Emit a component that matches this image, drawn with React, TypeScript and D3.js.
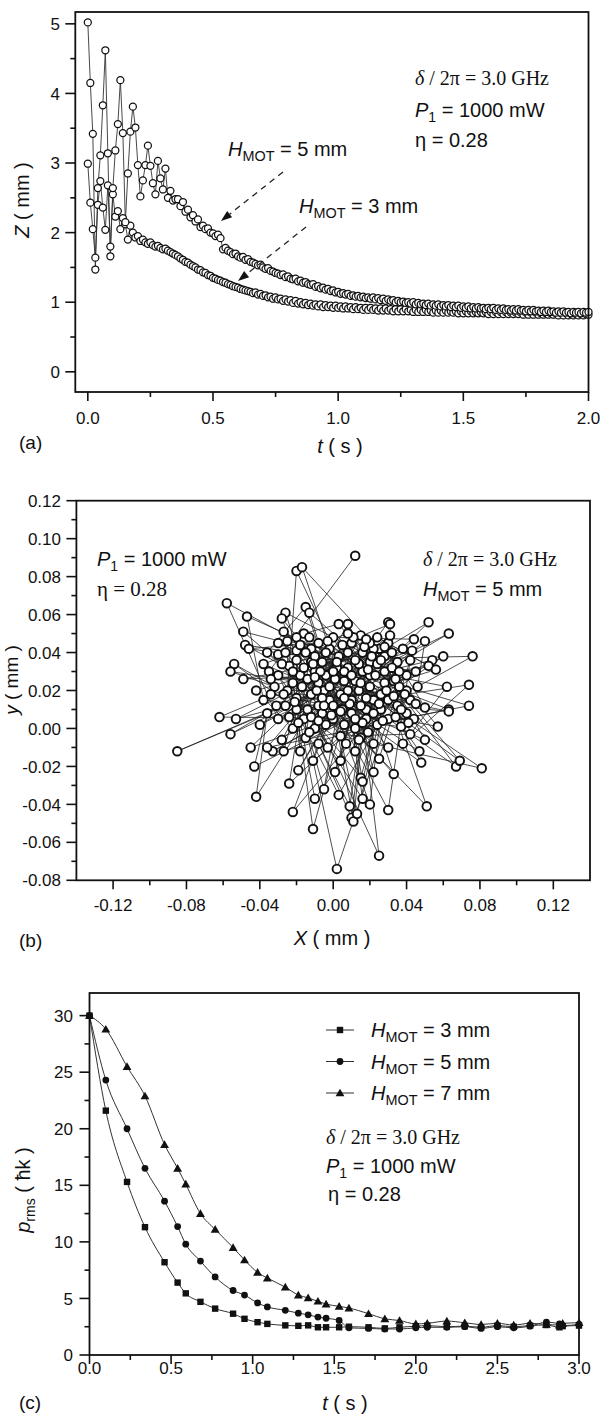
import React from 'react';
import * as d3 from 'd3';

const W = 603;
const H = 1416;
const SANS = "'Liberation Sans', Arial, Helvetica, sans-serif";
const SERIF = "'Liberation Serif', 'Times New Roman', serif";

// ---------------- Panel (a) data ----------------
const aTimeStep = 0.01; // s between samples
const aZ5mm = [
  5.02, 4.15, 3.42, 1.47, 2.64, 3.11, 3.83, 4.62, 3.14, 1.66,
  2.64, 3.18, 3.56, 4.19, 3.43, 2.15, 2.85, 3.45, 3.81, 3.51,
  2.97, 2.52, 2.75, 2.97, 3.25, 2.96, 2.71, 2.55, 3.03, 2.78,
  2.62, 2.92, 2.50, 2.60, 2.46, 2.48,
  2.48, 2.38, 2.44, 2.30, 2.33, 2.22, 2.25, 2.16, 2.19, 2.08,
  2.10, 2.05, 2.06, 2.00, 1.99, 1.95, 1.97, 1.92, 1.76, 1.78,
  1.74, 1.72, 1.69, 1.70, 1.66, 1.64, 1.65, 1.61, 1.62, 1.58,
  1.57, 1.55, 1.53, 1.54, 1.50, 1.48, 1.49, 1.45, 1.44, 1.42,
  1.41, 1.39, 1.40, 1.36, 1.37, 1.34, 1.33, 1.34, 1.30, 1.31,
  1.28, 1.29, 1.26, 1.25, 1.26, 1.22, 1.23, 1.20, 1.21, 1.18,
  1.19, 1.16, 1.17, 1.14, 1.15, 1.12, 1.13, 1.11, 1.12, 1.09,
  1.10, 1.08, 1.09, 1.07, 1.08, 1.06, 1.07, 1.05, 1.07, 1.04,
  1.06, 1.03, 1.05, 1.02, 1.04, 1.02, 1.03, 1.00, 1.02, 1.00,
  1.01, 0.99, 1.00, 0.98, 1.00, 0.97, 0.99, 0.97, 0.98, 0.96,
  0.98, 0.95, 0.97, 0.95, 0.97, 0.94, 0.96, 0.94, 0.96, 0.93,
  0.95, 0.93, 0.95, 0.92, 0.94, 0.92, 0.94, 0.91, 0.93, 0.91,
  0.93, 0.91, 0.92, 0.90, 0.92, 0.90, 0.92, 0.89, 0.91, 0.89,
  0.91, 0.89, 0.90, 0.88, 0.90, 0.88, 0.90, 0.88, 0.89, 0.87,
  0.89, 0.87, 0.89, 0.87, 0.88, 0.86, 0.88, 0.86, 0.88, 0.86,
  0.87, 0.85, 0.87, 0.85, 0.87, 0.85, 0.86, 0.84, 0.86, 0.85,
  0.86, 0.84, 0.86, 0.85, 0.86,
];
const aZ3mm = [
  2.99, 2.43, 2.05, 1.64, 2.40, 2.74, 2.36, 2.04, 2.68, 1.80,
  2.55, 2.23, 2.31, 2.05, 2.21, 2.12, 1.90, 2.10, 2.00, 1.93,
  1.95, 1.88, 1.90, 1.86, 1.84, 1.86, 1.82, 1.80, 1.81, 1.78,
  1.76, 1.77, 1.74, 1.72, 1.70, 1.68,
  1.66, 1.63, 1.61, 1.58, 1.57, 1.54, 1.52, 1.50, 1.47, 1.46,
  1.43, 1.42, 1.39, 1.38, 1.35, 1.34, 1.32, 1.31, 1.29, 1.28,
  1.26, 1.25, 1.23, 1.22, 1.21, 1.19, 1.18, 1.17, 1.16, 1.15,
  1.13, 1.14, 1.11, 1.12, 1.09, 1.10, 1.07, 1.08, 1.05, 1.07,
  1.04, 1.05, 1.02, 1.04, 1.01, 1.03, 0.99, 1.02, 0.98, 1.00,
  0.97, 0.99, 0.96, 0.98, 0.95, 0.97, 0.94, 0.97, 0.93, 0.96,
  0.93, 0.95, 0.92, 0.95, 0.92, 0.94, 0.91, 0.94, 0.91, 0.93,
  0.90, 0.93, 0.90, 0.92, 0.89, 0.92, 0.89, 0.92, 0.89, 0.91,
  0.88, 0.91, 0.88, 0.91, 0.88, 0.90, 0.87, 0.90, 0.87, 0.90,
  0.87, 0.90, 0.87, 0.89, 0.86, 0.89, 0.86, 0.89, 0.86, 0.89,
  0.86, 0.88, 0.85, 0.88, 0.85, 0.88, 0.85, 0.88, 0.85, 0.87,
  0.85, 0.87, 0.84, 0.87, 0.84, 0.87, 0.84, 0.87, 0.84, 0.86,
  0.84, 0.86, 0.84, 0.86, 0.83, 0.86, 0.83, 0.86, 0.83, 0.86,
  0.83, 0.86, 0.83, 0.85, 0.83, 0.85, 0.83, 0.85, 0.82, 0.85,
  0.82, 0.85, 0.82, 0.85, 0.82, 0.84, 0.82, 0.84, 0.82, 0.84,
  0.82, 0.84, 0.81, 0.84, 0.81, 0.84, 0.81, 0.83, 0.81, 0.83,
  0.81, 0.83, 0.81, 0.83, 0.82,
];
const aXTicks = [0, 0.5, 1.0, 1.5, 2.0];
const aXTickLabels = ['0.0', '0.5', '1.0', '1.5', '2.0'];
const aXMinor = [0.25, 0.75, 1.25, 1.75];
const aYTicks = [0, 1, 2, 3, 4, 5];
const aYTickLabels = ['0', '1', '2', '3', '4', '5'];
const aYMinor = [0.5, 1.5, 2.5, 3.5, 4.5];

// ---------------- Panel (b) data (X, y in mm) ----------------
const bPeriphery: [number, number][] = [
  [0.012, 0.091], [0.030, 0.005], [-0.020, 0.083], [-0.005, 0.020], [-0.017, 0.085],
  [-0.012, 0.035], [0.025, 0.042], [-0.058, 0.066], [-0.010, 0.030], [0.040, 0.020],
  [-0.047, 0.059], [0.005, 0.010], [-0.049, 0.051], [0.020, 0.028], [-0.048, 0.044],
  [-0.046, 0.042], [0.010, 0.015], [-0.054, 0.034], [-0.056, 0.030], [0.015, -0.005],
  [-0.049, 0.026], [-0.042, 0.020], [0.035, 0.035], [-0.026, 0.061], [-0.028, 0.058],
  [0.000, 0.005], [-0.015, 0.064], [-0.013, 0.061], [0.022, 0.015], [0.003, 0.055],
  [0.008, 0.055], [-0.008, 0.012], [0.015, 0.049], [0.030, 0.056], [0.031, 0.055],
  [-0.003, -0.010], [0.052, 0.056], [0.063, 0.050], [0.012, 0.025], [0.044, 0.047],
  [0.050, 0.046], [0.076, 0.038], [-0.020, 0.010], [0.060, 0.038], [0.054, 0.036],
  [0.052, 0.033], [0.056, 0.031], [0.074, 0.023], [0.062, 0.022], [0.074, 0.012],
  [0.063, 0.010], [0.050, 0.011], [-0.030, 0.039], [-0.020, 0.041], [-0.020, 0.048],
  [-0.027, 0.051], [-0.062, 0.006], [-0.053, 0.005], [-0.085, -0.012], [-0.056, -0.003],
  [-0.045, -0.010], [-0.043, -0.020], [-0.042, -0.036], [-0.036, -0.010], [-0.027, -0.012],
  [-0.024, -0.029], [-0.022, -0.044], [-0.019, -0.022], [-0.011, -0.053], [-0.010, -0.037],
  [-0.011, -0.017], [-0.005, -0.032], [0.002, -0.074], [0.003, -0.035], [0.004, -0.017],
  [0.001, -0.023], [0.009, -0.041], [0.010, -0.047], [0.011, -0.049], [0.013, -0.045],
  [0.015, -0.026], [0.016, -0.037], [0.016, -0.028], [0.020, -0.040], [0.022, -0.023],
  [0.025, -0.067], [0.025, -0.016], [0.030, -0.043], [0.033, -0.024], [0.047, -0.012],
  [0.048, -0.018], [0.051, -0.041], [0.050, -0.006], [0.057, 0.001], [0.063, 0.009],
  [0.067, -0.020], [0.069, -0.017], [0.081, -0.021], [0.042, -0.003], [0.037, 0.001],
];
const bCore: [number, number][] = [
  [-0.035, 0.030], [0.018, 0.005], [-0.025, 0.020], [0.028, 0.038], [-0.002, 0.042],
  [0.040, 0.008], [-0.030, 0.005], [0.008, 0.032], [-0.015, -0.005], [0.033, 0.025],
  [-0.038, 0.015], [0.003, 0.038], [0.022, -0.008], [-0.018, 0.028], [0.045, 0.030],
  [-0.008, 0.045], [0.012, -0.012], [-0.032, 0.022], [0.026, 0.018], [-0.004, 0.028],
  [0.038, 0.042], [-0.022, 0.000], [0.016, 0.040], [-0.012, 0.018], [0.030, -0.010],
  [-0.036, 0.040], [0.006, 0.002], [0.042, 0.015], [-0.016, 0.050], [0.020, 0.035],
  [-0.028, -0.006], [0.010, 0.045], [-0.006, 0.008], [0.035, 0.012], [-0.024, 0.033],
  [0.014, 0.020], [-0.040, 0.002], [0.028, 0.030], [0.000, 0.048], [-0.010, 0.000],
  [0.046, 0.022], [-0.020, 0.036], [0.018, 0.010], [-0.033, -0.012], [0.006, 0.025],
  [0.024, 0.048], [-0.014, 0.010], [0.038, -0.008], [-0.006, 0.035], [0.012, 0.000],
  [-0.030, 0.045], [0.032, 0.040], [-0.002, 0.015], [0.020, 0.022], [-0.018, -0.012],
  [0.044, 0.005], [0.002, 0.032], [-0.026, 0.012], [0.016, 0.030], [-0.008, 0.024],
  [0.030, 0.015], [-0.036, 0.008], [0.008, 0.040], [0.024, 0.002], [-0.012, 0.042],
  [0.040, 0.028], [-0.004, 0.002], [0.014, 0.034], [-0.022, 0.024], [0.026, 0.010],
  [0.004, 0.018], [-0.016, 0.005], [0.036, 0.022], [-0.030, 0.028], [0.010, 0.008],
  [0.022, 0.042], [-0.008, -0.008], [0.018, 0.016], [-0.002, 0.022], [0.032, 0.032],
  [-0.020, 0.016], [0.006, 0.030], [0.028, 0.024], [-0.010, 0.038], [0.016, 0.003],
  [-0.026, 0.040], [0.042, 0.036], [0.000, 0.012], [0.012, 0.036], [-0.014, 0.026],
  [0.034, 0.006], [-0.006, 0.016], [0.020, 0.045], [-0.034, 0.018], [0.008, 0.020],
  [0.024, 0.034], [-0.018, 0.044], [0.004, -0.004], [0.030, 0.045], [-0.012, 0.006],
  [0.001, 0.026], [-0.016, 0.032], [0.027, 0.004], [0.011, 0.048], [-0.024, 0.006],
  [0.036, 0.030], [-0.004, 0.040], [0.019, -0.002], [-0.028, 0.034], [0.009, 0.013],
  [0.031, 0.049], [-0.009, 0.020], [0.023, 0.028], [-0.019, 0.003], [0.005, 0.044],
  [0.039, 0.018], [-0.013, 0.048], [0.015, 0.024], [-0.001, 0.007], [0.028, 0.043],
  [-0.022, 0.030], [0.007, -0.008], [0.034, 0.026], [-0.007, 0.030], [0.017, 0.043],
  [-0.031, 0.012], [0.025, 0.013], [0.002, 0.035], [-0.017, 0.022], [0.043, 0.041],
  [0.012, 0.005], [-0.011, 0.034], [0.021, 0.038], [-0.025, 0.046], [0.006, 0.016],
  [0.037, 0.010], [-0.003, 0.046], [0.014, -0.006], [-0.021, 0.014], [0.029, 0.020],
  [-0.008, 0.004], [0.019, 0.031], [-0.034, 0.026], [0.010, 0.028], [0.041, 0.003],
  [-0.015, 0.040], [0.004, 0.009], [0.026, 0.036], [-0.005, 0.012], [0.018, 0.047],
  [-0.027, 0.018], [0.033, 0.017], [0.000, 0.030], [-0.013, -0.002], [0.022, 0.008],
  [-0.038, 0.034], [0.008, 0.050], [0.045, 0.013], [-0.010, 0.027], [0.015, 0.012],
];
const bXTicks = [-0.12, -0.08, -0.04, 0, 0.04, 0.08, 0.12];
const bXTickLabels = ['-0.12', '-0.08', '-0.04', '0.00', '0.04', '0.08', '0.12'];
const bXMinor = [-0.10, -0.06, -0.02, 0.02, 0.06, 0.10];
const bYTicks = [-0.08, -0.06, -0.04, -0.02, 0, 0.02, 0.04, 0.06, 0.08, 0.10, 0.12];
const bYTickLabels = ['-0.08', '-0.06', '-0.04', '-0.02', '0.00', '0.02', '0.04', '0.06', '0.08', '0.10', '0.12'];
const bYMinor = [-0.07, -0.05, -0.03, -0.01, 0.01, 0.03, 0.05, 0.07, 0.09, 0.11];

// ---------------- Panel (c) data ----------------
const cTime = [0, 0.10, 0.23, 0.34, 0.46, 0.54, 0.59, 0.68, 0.77, 0.88, 0.95, 1.03, 1.09, 1.20, 1.28, 1.34, 1.40, 1.45,
  1.53, 1.59, 1.71, 1.81, 1.90, 2.00, 2.07, 2.19, 2.30, 2.40, 2.50, 2.60, 2.70, 2.80, 2.88, 2.90, 3.00];
const cP3mm = [30, 21.6, 15.3, 11.3, 8.2, 6.4, 5.45, 4.7, 4.1, 3.65, 3.2, 2.9, 2.75, 2.62, 2.58, 2.62, 2.45, 2.45,
  2.45, 2.5, 2.45, 2.35, 2.45, 2.55, 2.6, 2.5, 2.55, 2.45, 2.6, 2.5, 2.6, 2.65, 2.45, 2.55, 2.6];
const cP5mm = [30, 24.3, 20.0, 16.5, 13.6, 11.35, 9.8, 8.3, 6.9, 5.7, 5.3, 4.6, 4.25, 3.95, 3.7, 3.55, 3.35, 3.25,
  3.05, 2.4, 2.35, 2.3, 2.3, 2.4, 2.45, 2.45, 2.5, 2.35, 2.5, 2.4, 2.55, 2.9, 2.75, 2.6, 2.7];
const cP7mm = [30, 28.8, 25.5, 22.9, 18.6, 16.5, 15.1, 12.5, 11.1, 9.5, 8.4, 7.3, 6.8, 6.0, 5.3, 5.05, 4.75, 4.5,
  4.3, 4.15, 3.65, 3.2, 3.05, 2.75, 2.8, 3.0, 2.85, 2.7, 2.8, 2.65, 2.8, 2.7, 2.65, 2.8, 2.85];
const cXTicks = [0, 0.5, 1.0, 1.5, 2.0, 2.5, 3.0];
const cXTickLabels = ['0.0', '0.5', '1.0', '1.5', '2.0', '2.5', '3.0'];
const cXMinor = [0.25, 0.75, 1.25, 1.75, 2.25, 2.75];
const cYTicks = [0, 5, 10, 15, 20, 25, 30];
const cYTickLabels = ['0', '5', '10', '15', '20', '25', '30'];
const cYMinor = [2.5, 7.5, 12.5, 17.5, 22.5, 27.5];
const cLegend = ['3', '5', '7'];

// ---------------- helpers ----------------
type Scale = d3.ScaleLinear<number, number>;

function Axes(props: {
  xs: Scale; ys: Scale;
  xTicks: number[]; xLabels: string[]; xMinor: number[];
  yTicks: number[]; yLabels: string[]; yMinor: number[];
  yLabelRight: number; xLabelBaseline: number;
}) {
  const { xs, ys } = props;
  const [x0, x1] = xs.range();
  const [yb, yt] = ys.range();
  const tickStroke = { stroke: '#111', strokeWidth: 1.6 };
  return (
    <g fontFamily={SANS} fontSize={17} fill="#111">
      <rect x={x0} y={yt} width={x1 - x0} height={yb - yt} fill="none" stroke="#111" strokeWidth={1.8} />
      {props.xTicks.map((t, i) => (
        <line key={'xt' + i} x1={xs(t)} x2={xs(t)} y1={yb} y2={yb + 9} {...tickStroke} />
      ))}
      {props.xMinor.map((t, i) => (
        <line key={'xm' + i} x1={xs(t)} x2={xs(t)} y1={yb} y2={yb + 5} {...tickStroke} />
      ))}
      {props.xTicks.map((t, i) => (
        <text key={'xl' + i} x={xs(t)} y={props.xLabelBaseline} textAnchor="middle">{props.xLabels[i]}</text>
      ))}
      {props.yTicks.map((t, i) => (
        <line key={'yt' + i} x1={x0 - 10} x2={x0} y1={ys(t)} y2={ys(t)} {...tickStroke} />
      ))}
      {props.yMinor.map((t, i) => (
        <line key={'ym' + i} x1={x0 - 5} x2={x0} y1={ys(t)} y2={ys(t)} {...tickStroke} />
      ))}
      {props.yTicks.map((t, i) => (
        <text key={'yl' + i} x={props.yLabelRight} y={ys(t)} dy="0.36em" textAnchor="end">{props.yLabels[i]}</text>
      ))}
    </g>
  );
}

function Arrow({ x1, y1, x2, y2 }: { x1: number; y1: number; x2: number; y2: number }) {
  const dx = x2 - x1, dy = y2 - y1;
  const len = Math.hypot(dx, dy);
  const ux = dx / len, uy = dy / len;
  const nx = -uy, ny = ux;
  const hl = 11, hw = 4;
  const bx = x2 - ux * hl, by = y2 - uy * hl;
  return (
    <g>
      <line x1={x1} y1={y1} x2={bx} y2={by} stroke="#222" strokeWidth={1.3} strokeDasharray="6,5" />
      <polygon points={`${x2},${y2} ${bx + nx * hw},${by + ny * hw} ${bx - nx * hw},${by - ny * hw}`} fill="#111" />
    </g>
  );
}

function HMot({ x, y, v, size = 20 }: { x: number; y: number; v: string; size?: number }) {
  return (
    <text x={x} y={y} fontFamily={SANS} fontSize={size} fill="#111">
      <tspan fontStyle="italic">H</tspan>
      <tspan fontSize={size * 0.72} dy={5}>MOT</tspan>
      <tspan dy={-5}>{` = ${v} mm`}</tspan>
    </text>
  );
}

function P1({ x, y }: { x: number; y: number }) {
  return (
    <text x={x} y={y} fontFamily={SANS} fontSize={20} fill="#111">
      <tspan fontStyle="italic">P</tspan>
      <tspan fontSize={14} dy={5}>1</tspan>
      <tspan dy={-5}> = 1000 mW</tspan>
    </text>
  );
}

function Delta({ x, y }: { x: number; y: number }) {
  return (
    <text x={x} y={y} fontFamily={SERIF} fontSize={20} fill="#111">
      <tspan fontStyle="italic">δ</tspan>
      <tspan> / 2π = 3.0 GHz</tspan>
    </text>
  );
}

function Marker({ kind, x, y }: { kind: string; x: number; y: number }) {
  if (kind === '3') return <rect x={x - 3.2} y={y - 3.2} width={6.4} height={6.4} fill="#111" />;
  if (kind === '5') return <circle cx={x} cy={y} r={3.4} fill="#111" />;
  const p = d3.symbol(d3.symbolTriangle, 34)();
  return <path d={p || ''} transform={`translate(${x},${y + 0.8})`} fill="#111" />;
}

export default function App() {
  // ---- panel a ----
  const ax = d3.scaleLinear().domain([-0.05, 2.0]).range([75.3, 588.5]);
  const ay = d3.scaleLinear().domain([-0.29, 5.17]).range([392, 12]);
  const aLine = d3.line<number>().x((_, i) => ax(i * aTimeStep)).y((d) => ay(d));

  // ---- panel b ----
  const bx = d3.scaleLinear().domain([-0.14, 0.14]).range([76.4, 590]);
  const by = d3.scaleLinear().domain([-0.08, 0.12]).range([880.3, 500.7]);
  const bTrajectory: [number, number][] = bPeriphery
    .flatMap((p, i) => [p, bCore[i]])
    .concat(bCore.slice(bPeriphery.length));
  const bLine = d3.line<[number, number]>().x((d) => bx(d[0])).y((d) => by(d[1]));

  // ---- panel c ----
  const cx = d3.scaleLinear().domain([0, 3.0]).range([89.5, 579]);
  const cy = d3.scaleLinear().domain([0, 32]).range([1355, 993]);
  const cLine = d3.line<number>().x((_, i) => cx(cTime[i])).y((d) => cy(d)).curve(d3.curveMonotoneX);
  const cSeries: [string, number[]][] = [['3', cP3mm], ['5', cP5mm], ['7', cP7mm]];

  return (
    <svg width={W} height={H} viewBox={`0 0 ${W} ${H}`}
      style={{ position: 'absolute', left: 0, top: 0, background: '#fff' }}>
      <rect width={W} height={H} fill="#fff" />

      {/* ================= (a) ================= */}
      <g>
        <path d={aLine(aZ3mm) || ''} fill="none" stroke="#333" strokeWidth={0.9} />
        <path d={aLine(aZ5mm) || ''} fill="none" stroke="#333" strokeWidth={0.9} />
        {aZ3mm.map((z, i) => (
          <circle key={'a3' + i} cx={ax(i * aTimeStep)} cy={ay(z)} r={3.5} fill="#fff" stroke="#111" strokeWidth={1.25} />
        ))}
        {aZ5mm.map((z, i) => (
          <circle key={'a5' + i} cx={ax(i * aTimeStep)} cy={ay(z)} r={3.5} fill="#fff" stroke="#111" strokeWidth={1.25} />
        ))}
        <Axes xs={ax} ys={ay} xTicks={aXTicks} xLabels={aXTickLabels} xMinor={aXMinor}
          yTicks={aYTicks} yLabels={aYTickLabels} yMinor={aYMinor} yLabelRight={60} xLabelBaseline={424} />
        <Delta x={415} y={85} />
        <P1 x={415} y={117} />
        <text x={415} y={147} fontFamily={SANS} fontSize={20} fill="#111">η = 0.28</text>
        <HMot x={228} y={156} v="5" />
        <HMot x={299} y={213} v="3" />
        <Arrow x1={283} y1={172} x2={221} y2={221} />
        <Arrow x1={306} y1={227} x2={238} y2={281} />
        <text x={340} y={453} fontFamily={SANS} fontSize={20} textAnchor="middle" fill="#111">
          <tspan fontStyle="italic">t</tspan> ( s )
        </text>
        <text x={19} y={449} fontFamily={SANS} fontSize={19} fill="#111">(a)</text>
        <text transform="translate(29,200) rotate(-90)" fontFamily={SANS} fontSize={20} textAnchor="middle" fill="#111">
          <tspan fontStyle="italic">Z</tspan> ( mm )
        </text>
      </g>

      {/* ================= (b) ================= */}
      <g>
        <path d={bLine(bTrajectory) || ''} fill="none" stroke="#222" strokeWidth={0.8} />
        {bTrajectory.map((p, i) => (
          <circle key={'b' + i} cx={bx(p[0])} cy={by(p[1])} r={4.3} fill="#fff" stroke="#111" strokeWidth={1.9} />
        ))}
        <Axes xs={bx} ys={by} xTicks={bXTicks} xLabels={bXTickLabels} xMinor={bXMinor}
          yTicks={bYTicks} yLabels={bYTickLabels} yMinor={bYMinor} yLabelRight={61} xLabelBaseline={911} />
        <P1 x={97} y={566} />
        <text x={97} y={596} fontFamily={SERIF} fontSize={21} fill="#111">η = 0.28</text>
        <Delta x={423} y={566} />
        <HMot x={423} y={596} v="5" />
        <text x={332} y={945} fontFamily={SANS} fontSize={20} textAnchor="middle" fill="#111">
          <tspan fontStyle="italic">X</tspan> ( mm )
        </text>
        <text x={19} y={947} fontFamily={SANS} fontSize={19} fill="#111">(b)</text>
        <text transform="translate(18,680) rotate(-90)" fontFamily={SANS} fontSize={19} textAnchor="middle" fill="#111">
          <tspan fontStyle="italic">y</tspan> ( mm )
        </text>
      </g>

      {/* ================= (c) ================= */}
      <g>
        {cSeries.map(([k, vals]) => (
          <path key={'cl' + k} d={cLine(vals) || ''} fill="none" stroke="#333" strokeWidth={1} />
        ))}
        {cSeries.map(([k, vals]) =>
          vals.map((v, i) => <Marker key={'cm' + k + i} kind={k} x={cx(cTime[i])} y={cy(v)} />)
        )}
        <Axes xs={cx} ys={cy} xTicks={cXTicks} xLabels={cXTickLabels} xMinor={cXMinor}
          yTicks={cYTicks} yLabels={cYTickLabels} yMinor={cYMinor} yLabelRight={73} xLabelBaseline={1374} />
        {cLegend.map((v, i) => {
          const yy = 1030 + i * 31.5;
          return (
            <g key={'lg' + v}>
              <line x1={326} x2={354} y1={yy} y2={yy} stroke="#333" strokeWidth={1} />
              <Marker kind={v} x={340} y={yy} />
              <HMot x={371} y={yy + 7} v={v} />
            </g>
          );
        })}
        <Delta x={326} y={1144} />
        <P1 x={326} y={1173} />
        <text x={328} y={1201} fontFamily={SANS} fontSize={20} fill="#111">η = 0.28</text>
        <text x={345} y={1410} fontFamily={SANS} fontSize={20} textAnchor="middle" fill="#111">
          <tspan fontStyle="italic">t</tspan> ( s )
        </text>
        <text x={19} y={1409} fontFamily={SANS} fontSize={19} fill="#111">(c)</text>
        <text transform="translate(30,1190) rotate(-90)" fontFamily={SANS} fontSize={20} textAnchor="middle" fill="#111">
          <tspan fontStyle="italic">p</tspan>
          <tspan fontSize={14} dy={5}>rms</tspan>
          <tspan dy={-5}> ( ħk )</tspan>
        </text>
      </g>
    </svg>
  );
}
